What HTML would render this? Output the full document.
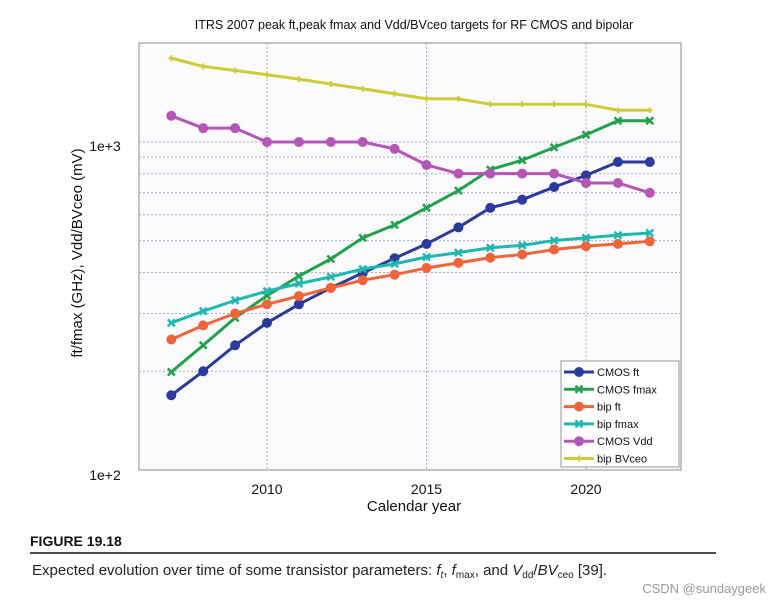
<!DOCTYPE html>
<html><head><meta charset="utf-8"><style>
body{margin:0;background:#fff;width:781px;height:605px;overflow:hidden;font-family:"Liberation Sans",sans-serif}
svg{position:absolute;left:0;top:0}
</style></head><body>
<svg id="chart" width="781" height="605">
<text x="414" y="29" font-size="12.5" text-anchor="middle" fill="#111">ITRS 2007 peak ft,peak fmax and Vdd/BVceo targets for RF CMOS and bipolar</text>
<rect x="139" y="43" width="542" height="427" fill="#fbfbfe" stroke="#a99" stroke-width="1.2"/>
<g id="grid"></g>
<g id="series"></g>
<text x="105" y="151" font-size="14" text-anchor="middle" fill="#111">1e+3</text>
<text x="105" y="480" font-size="14" text-anchor="middle" fill="#111">1e+2</text>
<text transform="translate(82,253) rotate(-90)" font-size="15" text-anchor="middle" fill="#111">ft/fmax (GHz), Vdd/BVceo (mV)</text>
<text x="414" y="511" font-size="15" text-anchor="middle" fill="#111">Calendar year</text>
<g id="xticks"></g>
<g id="legend">
<rect x="561" y="361" width="118" height="106" fill="#fff" stroke="#999" stroke-width="1"/>
</g>
<text x="30" y="546" font-size="14" font-weight="bold" fill="#111">FIGURE 19.18</text>
<line x1="30" y1="553" x2="716" y2="553" stroke="#111" stroke-width="1.5"/>
<text x="32" y="575" font-size="15" fill="#222">Expected evolution over time of some transistor parameters: <tspan font-style="italic">f</tspan><tspan font-size="10" dy="3" font-style="italic">t</tspan><tspan dy="-3">, </tspan><tspan font-style="italic">f</tspan><tspan font-size="10" dy="3">max</tspan><tspan dy="-3">, and </tspan><tspan font-style="italic">V</tspan><tspan font-size="10" dy="3">dd</tspan><tspan dy="-3">/</tspan><tspan font-style="italic">BV</tspan><tspan font-size="10" dy="3">ceo</tspan><tspan dy="-3"> [39].</tspan></text>
<text x="766" y="593" font-size="13" fill="#999" text-anchor="end">CSDN @sundaygeek</text>
</svg>
<script>
const years=[2007,2008,2009,2010,2011,2012,2013,2014,2015,2016,2017,2018,2019,2020,2021,2022];
const cmosFt=[169,200,240,281,320,359,399,442,489,549,630,667,729,791,869,869];
const cmosFmax=[199,240,291,340,390,440,510,559,630,711,824,880,963,1052,1161,1161];
const bipFt=[250,276,300,320,339,359,379,394,413,428,444,454,470,481,489,498];
const bipFmax=[281,305,329,351,370,388,410,425,446,460,476,484,501,510,520,528];
const cmosVdd=[1202,1102,1102,1000,1000,1000,1000,953,851,801,801,801,801,750,750,700];
const bipBVceo=[1802,1700,1652,1603,1555,1503,1453,1403,1355,1355,1303,1303,1303,1303,1250,1250];
const xTicks=[2010,2015,2020];
const seriesNames=["CMOS ft","CMOS fmax","bip ft","bip fmax","CMOS Vdd","bip BVceo"];
const NS="http://www.w3.org/2000/svg";
function X(yr){return 267+(yr-2010)*31.9;}
function Y(v){return 470-(Math.log10(v)-2)*328;}
function mk(tag,attrs,parent){const e=document.createElementNS(NS,tag);for(const k in attrs)e.setAttribute(k,attrs[k]);parent.appendChild(e);return e;}
const grid=document.getElementById('grid');
for(const t of xTicks){
  const l=mk('line',{x1:X(t),x2:X(t),y1:43,y2:470,stroke:'#aab','stroke-dasharray':'2,2'},grid);
  
  
  const tx=mk('text',{x:X(t),y:494,'font-size':14,'text-anchor':'middle',fill:'#111'},document.getElementById('xticks'));
  tx.textContent=t;
  
  
}
for(const d of [100,1000]){for(let m=1;m<10;m++){const v=d*m;if(v<=100)continue;const y=Y(v);if(y<45)continue;
  const l=mk('line',{x1:139,x2:681,y1:y,y2:y,stroke:'#aab','stroke-dasharray':'2,2'},grid);
  
  }}
const defs=[
 {d:cmosFt,c:'#2b3a9c',m:'o'},
 {d:cmosFmax,c:'#1ea34a',m:'x'},
 {d:bipFt,c:'#f0643a',m:'o'},
 {d:bipFmax,c:'#1fb8b0',m:'x'},
 {d:cmosVdd,c:'#b555b8',m:'o'},
 {d:bipBVceo,c:'#cccc38',m:'+'}];
const sg=document.getElementById('series');
function marker(g,x,y,c,m,name){
  let e;
  if(m==='o'){e=mk('circle',{cx:x,cy:y,r:4.5,fill:c,stroke:c,'stroke-width':1},g);}
  else if(m==='x'){e=mk('path',{d:`M${x-3.5} ${y-3.5}L${x+3.5} ${y+3.5}M${x-3.5} ${y+3.5}L${x+3.5} ${y-3.5}`,stroke:c,'stroke-width':2.5,fill:'none'},g);}
  else {e=mk('path',{d:`M${x-3} ${y}L${x+3} ${y}M${x} ${y-3}L${x} ${y+3}`,stroke:c,'stroke-width':2,fill:'none'},g);}
  
  
}
defs.forEach((s,i)=>{
  const g=mk('g',{},sg);
  
  
  const pts=s.d.map((v,j)=>X(years[j])+','+Y(v)).join(' ');
  const pl=mk('polyline',{points:pts,fill:'none',stroke:s.c,'stroke-width':3,'stroke-linejoin':'round'},g);
  
  
  s.d.forEach((v,j)=>marker(g,X(years[j]),Y(v),s.c,s.m,'data-point'));
  const lg=document.getElementById('legend');
  const ly=372+i*17.3;
  const ll=mk('line',{x1:564,x2:594,y1:ly,y2:ly,stroke:s.c,'stroke-width':3},lg);
  
  
  marker(lg,579,ly,s.c,s.m,'legend-marker');
  const t=mk('text',{x:597,y:ly+4,'font-size':11,fill:'#111'},lg);
  t.textContent=seriesNames[i];
  
  
});
</script>
</body></html>
